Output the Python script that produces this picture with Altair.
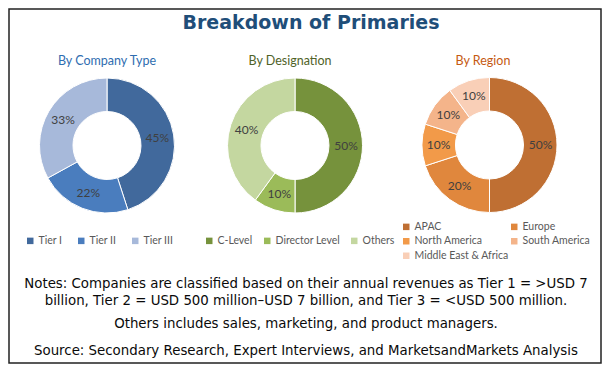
import altair as alt
import pandas as pd

# ---- data ----
company_cats = ["Tier I", "Tier II", "Tier III"]
company_vals = [45, 22, 33]
design_cats = ["C-Level", "Director Level", "Others"]
design_vals = [50, 10, 40]
region_cats = ["APAC", "Europe", "North America", "South America", "Middle East & Africa"]
region_vals = [50, 20, 10, 10, 10]

title_text = "Breakdown of Primaries"
subtitles = ["By Company Type", "By Designation", "By Region"]
notes = [
    "Notes: Companies are classified based on their annual revenues as Tier 1 = >USD 7",
    "billion, Tier 2 = USD 500 million\u2013USD 7 billion, and Tier 3 = <USD 500 million.",
    "Others includes sales, marketing, and product managers.",
    "Source: Secondary Research, Expert Interviews, and MarketsandMarkets Analysis",
]

# ---- styles ----
company_colors = ["#41699C", "#4A7DBE", "#A7B9DA"]
design_colors = ["#76923C", "#9BBB59", "#C4D7A0"]
region_colors = ["#BF6F33", "#E0873D", "#F29A49", "#F4B48A", "#F9CFB7"]
subtitle_colors = ["#2F6DB0", "#4F6228", "#C55A11"]

W, H = 594, 356
R_OUT, R_IN, R_LAB = 67.5, 34, 51


def donut(cats, vals, colors, cx, cy, lx, ly, columns, colpad):
    df = pd.DataFrame({"cat": cats, "val": vals, "idx": list(range(len(cats)))})
    df["label"] = [f"{v}%" for v in vals]
    base = alt.Chart(df).encode(
        theta=alt.Theta("val:Q", stack=True),
        order=alt.Order("idx:Q"),
    )
    arc = base.mark_arc(outerRadius=R_OUT, innerRadius=R_IN, stroke="white", strokeWidth=1).encode(
        x=alt.value(cx),
        y=alt.value(cy),
        color=alt.Color(
            "cat:N",
            sort=cats,
            scale=alt.Scale(domain=cats, range=colors),
            legend=alt.Legend(
                orient="none", legendX=lx, legendY=ly, direction="horizontal",
                columns=columns, columnPadding=colpad, rowPadding=3.5,
                symbolType="square", symbolSize=42, symbolStrokeWidth=0,
                labelFont="Lato", labelFontSize=10.5, labelColor="#595959",
                labelOffset=3, title=None, padding=0, labelLimit=0,
            ),
        ),
    )
    text = base.mark_text(radius=R_LAB, font="Lato", fontSize=12, color="#404040").encode(
        x=alt.value(cx), y=alt.value(cy), text="label:N"
    )
    return [arc, text]


layers = []
layers += donut(company_cats, company_vals, company_colors, 99, 137.5, 17, 227.5, 3, 13)
layers += donut(design_cats, design_vals, design_colors, 287, 137.5, 196, 227.5, 3, 9)
layers += donut(region_cats, region_vals, region_colors, 481.5, 137, 393, 213.5, 2, 0)

# title
layers.append(
    alt.Chart(pd.DataFrame({"t": [title_text]})).mark_text(
        font="DejaVu Sans", fontWeight="bold", fontSize=19, color="#1F4E79",
        align="center", baseline="alphabetic",
    ).encode(text="t:N", x=alt.value(303), y=alt.value(21))
)

# subtitles
for s, c, x in zip(subtitles, subtitle_colors, [99, 282, 475]):
    layers.append(
        alt.Chart(pd.DataFrame({"t": [s]})).mark_text(
            font="Lato", fontSize=12.5, color=c, align="center", baseline="alphabetic",
        ).encode(text="t:N", x=alt.value(x), y=alt.value(57))
    )

# notes
for s, y in zip(notes, [276, 293, 316, 343]):
    layers.append(
        alt.Chart(pd.DataFrame({"t": [s]})).mark_text(
            font="DejaVu Sans", fontSize=13.35, color="#0A0A0A", align="center", baseline="middle",
        ).encode(text="t:N", x=alt.value(298), y=alt.value(y))
    )

# frame
layers.append(
    alt.Chart(pd.DataFrame({"t": [0]})).mark_rect(
        fill="white", fillOpacity=0, stroke="#222222", strokeWidth=1.5
    ).encode(x=alt.value(1), x2=alt.value(W - 1), y=alt.value(1), y2=alt.value(H - 1))
)

chart = (
    alt.layer(*layers)
    .resolve_scale(color="independent", theta="independent")
    .properties(width=W, height=H, padding=0, autosize=alt.AutoSizeParams(type="none"))
    .configure_view(stroke=None)
)

chart.save("out.html", embed_options={"renderer": "svg", "actions": False})
